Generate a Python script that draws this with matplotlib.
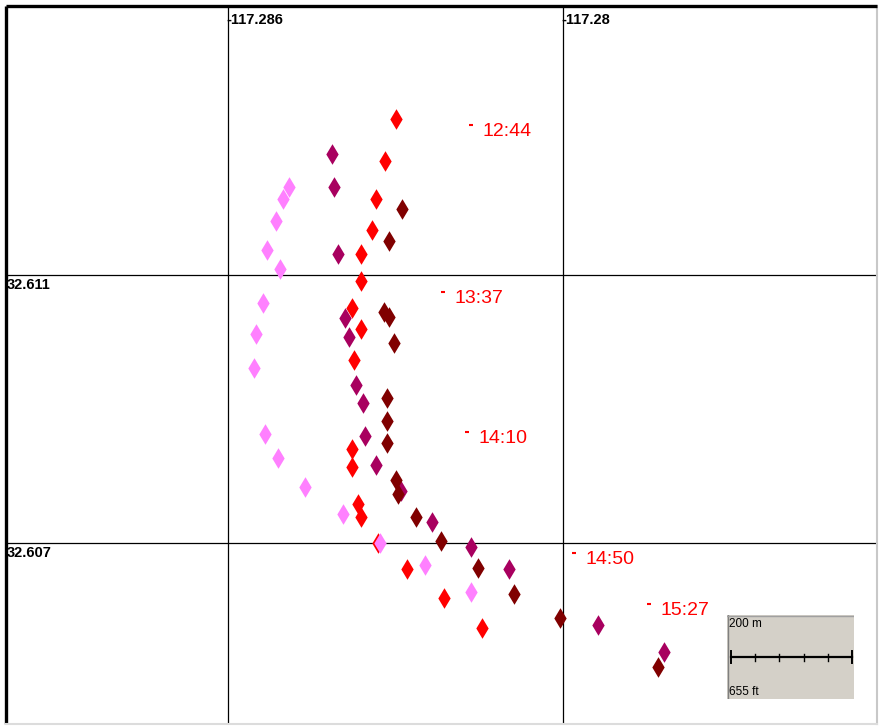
import matplotlib
matplotlib.use('Agg')
import matplotlib.pyplot as plt
from matplotlib.patches import Rectangle

plt.rcParams['font.family'] = ['Liberation Sans', 'DejaVu Sans']

# 经纬度数据 (四条轨迹)
red_lon = [-117.282991, -117.283188, -117.283349, -117.283421, -117.283618, -117.283618,
           -117.283779, -117.283618, -117.283743, -117.283779, -117.283779, -117.283672,
           -117.283618, -117.283313, -117.282794, -117.282131, -117.281451]
red_lat = [32.613328, 32.612701, 32.612134, 32.611672, 32.611313, 32.610910,
           32.610507, 32.610194, 32.609731, 32.608403, 32.608134, 32.607582,
           32.607388, 32.607000, 32.606612, 32.606179, 32.605731]

dark_lon = [-117.282884, -117.283116, -117.283206, -117.283116, -117.283027, -117.283152,
            -117.283152, -117.283152, -117.282991, -117.282955, -117.282633, -117.282185,
            -117.281522, -117.280878, -117.280054, -117.278299]
dark_lat = [32.611985, 32.611507, 32.610448, 32.610373, 32.609985, 32.609164,
            32.608821, 32.608493, 32.607940, 32.607731, 32.607388, 32.607030,
            32.606627, 32.606239, 32.605881, 32.605149]

purple_lon = [-117.284137, -117.284102, -117.284030, -117.283904, -117.283833, -117.283707,
              -117.283582, -117.283546, -117.283349, -117.282902, -117.282346, -117.281648,
              -117.280967, -117.279373, -117.278191]
purple_lat = [32.612806, 32.612313, 32.611313, 32.610358, 32.610075, 32.609358,
              32.609090, 32.608597, 32.608164, 32.607776, 32.607313, 32.606940,
              32.606612, 32.605776, 32.605373]

pink_lon = [-117.284907, -117.285015, -117.285140, -117.285301, -117.285069, -117.285373,
            -117.285499, -117.285534, -117.285337, -117.285104, -117.284621, -117.283940,
            -117.283278, -117.282472, -117.281648]
pink_lat = [32.612313, 32.612134, 32.611806, 32.611373, 32.611090, 32.610582,
            32.610119, 32.609612, 32.608627, 32.608269, 32.607836, 32.607433,
            32.607000, 32.606672, 32.606269]

# 时间标签
time_labels = ['12:44', '13:37', '14:10', '14:50', '15:27']
time_lon = [-117.281648, -117.282149, -117.281719, -117.279803, -117.278460]
time_lat = [32.613239, 32.610746, 32.608657, 32.606851, 32.606090]

# 网格线
grid_lon = [-117.286, -117.28]
grid_lat = [32.611, 32.607]

fig = plt.figure(figsize=(8.82, 7.26), dpi=100, facecolor='white')
W, H = 882, 726
ax = fig.add_axes([5.5 / W, 1 - 724 / H, 871.5 / W, 718 / H])
ax.set_xlim(-117.289985, -117.274376)
ax.set_ylim(32.604299, 32.615015)
ax.set_xticks([])
ax.set_yticks([])
for side in ['top', 'left']:
    ax.spines[side].set_linewidth(2.4)
    ax.spines[side].set_color('black')
    ax.spines[side].set_capstyle('butt')
ax.spines['right'].set_color('#c8c8c8')
ax.spines['bottom'].set_color('#dcdcdc')
ax.spines['right'].set_linewidth(1.5)
ax.spines['bottom'].set_linewidth(1.5)

for x in grid_lon:
    ax.axvline(x, color='black', lw=0.9, zorder=1)
    ax.annotate('%g' % x, xy=(x, 1), xycoords=('data', 'axes fraction'),
                xytext=(-1, -5), textcoords='offset points', ha='left', va='top',
                fontsize=10.5, fontweight='bold')
for y in grid_lat:
    ax.axhline(y, color='black', lw=0.9, zorder=1)
    ax.annotate('%g' % y, xy=(0, y), xycoords=('axes fraction', 'data'),
                xytext=(1, -2.5), textcoords='offset points', ha='left', va='top',
                fontsize=10.5, fontweight='bold')

# 画点
ms = 110
ax.scatter(red_lon, red_lat, marker='d', s=ms, color='#ff0000', linewidths=0, zorder=3)
ax.scatter(purple_lon, purple_lat, marker='d', s=ms, color='#a8005f', linewidths=0, zorder=3)
ax.scatter(dark_lon, dark_lat, marker='d', s=ms, color='#800000', linewidths=0, zorder=3)
ax.scatter(pink_lon, pink_lat, marker='d', s=ms, color='#ff80ff', linewidths=0, zorder=3)

for lab, x, y in zip(time_labels, time_lon, time_lat):
    ax.plot(x, y, marker='_', ms=3.5, mew=1.5, color='red')
    ax.annotate(lab, xy=(x, y), xytext=(8.5, -4.5), textcoords='offset points',
                ha='left', va='center', fontsize=14, color='red')

# 比例尺
sax = fig.add_axes([727 / W, 1 - 699 / H, 127 / W, 84 / H])
sax.set_xlim(0, 127)
sax.set_ylim(84, 0)
sax.axis('off')
sax.add_patch(Rectangle((0, 0), 127, 84, facecolor='#d4d0c8', edgecolor='none'))
sax.plot([0.5, 0.5], [0, 84], color='#808080', lw=1)
sax.plot([0, 127], [0.5, 0.5], color='#a0a0a0', lw=1)
sax.plot([4, 125], [42, 42], color='black', lw=1.6)
for i in range(6):
    tx = 4 + i * 121 / 5
    h = 6 if i in (0, 5) else 3.5
    sax.plot([tx, tx], [42 - h, 42 + h], color='black', lw=1.4 if i in (0, 5) else 1)
sax.text(2, 3, '200 m', ha='left', va='top', fontsize=8.5)
sax.text(2, 83, '655 ft', ha='left', va='bottom', fontsize=8.5)

fig.savefig('out.png', dpi=100)
